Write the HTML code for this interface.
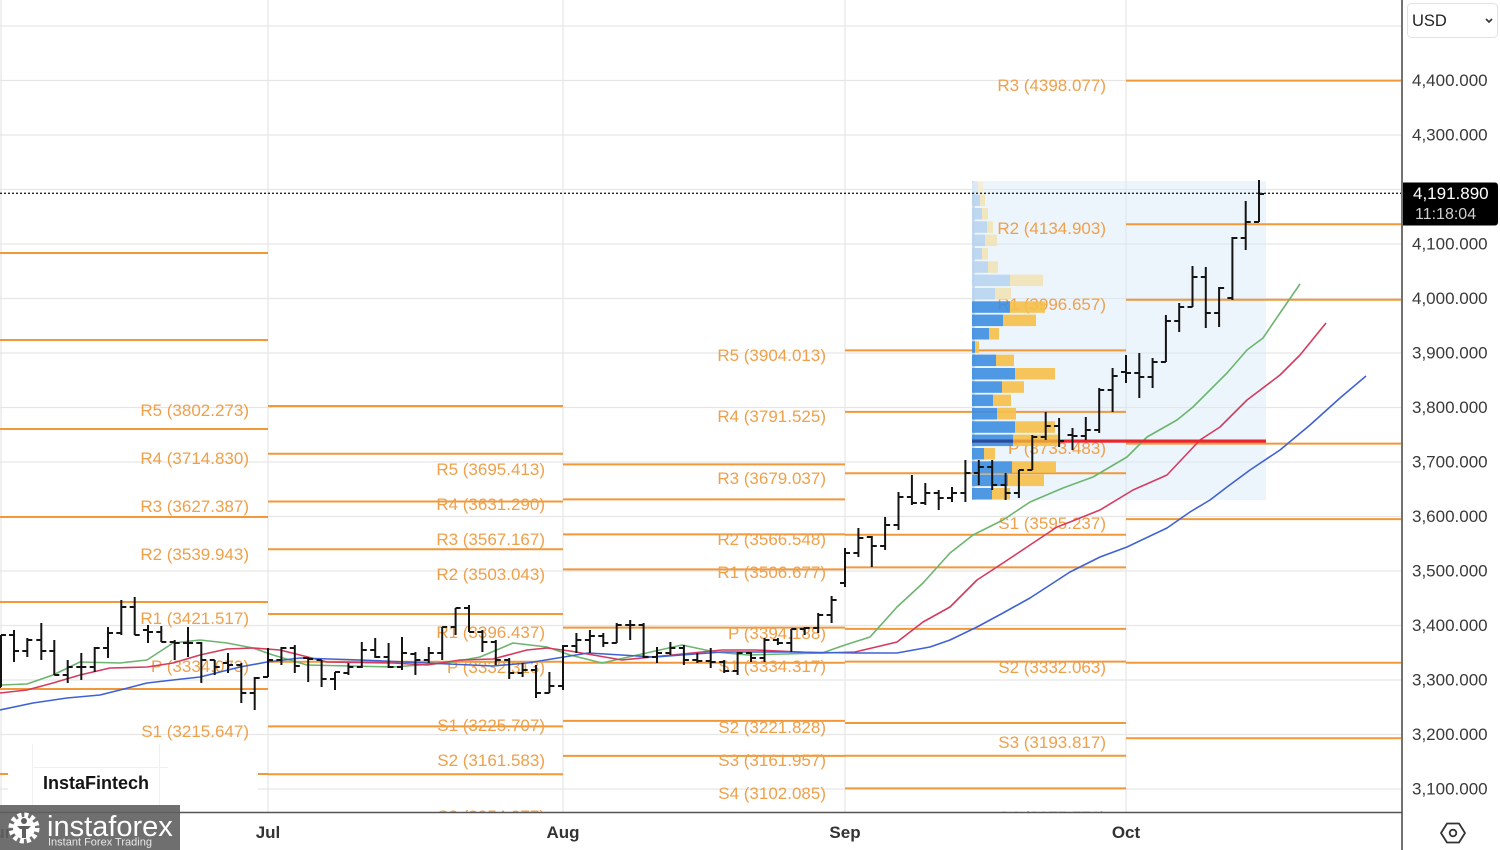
<!DOCTYPE html>
<html><head><meta charset="utf-8"><style>
html,body{margin:0;padding:0;background:#fff;}
body{width:1500px;height:850px;overflow:hidden;font-family:"Liberation Sans",Arial,sans-serif;}
svg{display:block;}
.ax{font-size:17px;fill:#3a3a3a;}
.lb{font-size:17px;fill:#EFA04A;text-anchor:end;}
.mo{font-size:17px;font-weight:bold;fill:#333;text-anchor:middle;}
</style></head><body>
<svg width="1500" height="850" viewBox="0 0 1500 850" xmlns="http://www.w3.org/2000/svg">
<defs><clipPath id="c"><rect x="0" y="0" width="1401" height="812"/></clipPath></defs>
<rect width="1500" height="850" fill="#fff"/>
<g clip-path="url(#c)">
<g stroke="#e6e6e6" stroke-width="1.2">
<line x1="0" x2="1401" y1="26" y2="26"/><line x1="0" x2="1401" y1="80.5" y2="80.5"/><line x1="0" x2="1401" y1="135" y2="135"/><line x1="0" x2="1401" y1="189.5" y2="189.5"/><line x1="0" x2="1401" y1="244" y2="244"/><line x1="0" x2="1401" y1="298.5" y2="298.5"/><line x1="0" x2="1401" y1="353" y2="353"/><line x1="0" x2="1401" y1="407.5" y2="407.5"/><line x1="0" x2="1401" y1="462" y2="462"/><line x1="0" x2="1401" y1="516.5" y2="516.5"/><line x1="0" x2="1401" y1="571" y2="571"/><line x1="0" x2="1401" y1="625.5" y2="625.5"/><line x1="0" x2="1401" y1="680" y2="680"/><line x1="0" x2="1401" y1="734.5" y2="734.5"/><line x1="0" x2="1401" y1="789" y2="789"/>
<line x1="1" x2="1" y1="0" y2="812"/><line x1="268" x2="268" y1="0" y2="812"/><line x1="563" x2="563" y1="0" y2="812"/><line x1="845" x2="845" y1="0" y2="812"/><line x1="1126" x2="1126" y1="0" y2="812"/>
</g>
<rect x="972" y="181" width="294" height="319" fill="#d6e8f8" fill-opacity="0.45"/>
<rect x="972" y="181" width="3" height="319" fill="#cfdbe6"/>
<g stroke="#F0983A" stroke-width="2">
<line x1="0" x2="268" y1="253" y2="253"/><line x1="0" x2="268" y1="340" y2="340"/><line x1="0" x2="268" y1="429" y2="429"/><line x1="0" x2="268" y1="517" y2="517"/><line x1="0" x2="268" y1="602" y2="602"/><line x1="0" x2="268" y1="689" y2="689"/><line x1="0" x2="268" y1="774" y2="774"/>
<line x1="268" x2="563" y1="406" y2="406"/><line x1="268" x2="563" y1="453.7" y2="453.7"/><line x1="268" x2="563" y1="501.5" y2="501.5"/><line x1="268" x2="563" y1="549.3" y2="549.3"/><line x1="268" x2="563" y1="614" y2="614"/><line x1="268" x2="563" y1="661.7" y2="661.7"/><line x1="268" x2="563" y1="726.4" y2="726.4"/><line x1="268" x2="563" y1="774.2" y2="774.2"/>
<line x1="563" x2="845" y1="464.4" y2="464.4"/><line x1="563" x2="845" y1="499.4" y2="499.4"/><line x1="563" x2="845" y1="534.4" y2="534.4"/><line x1="563" x2="845" y1="569.4" y2="569.4"/><line x1="563" x2="845" y1="627.6" y2="627.6"/><line x1="563" x2="845" y1="662.7" y2="662.7"/><line x1="563" x2="845" y1="720.9" y2="720.9"/><line x1="563" x2="845" y1="755.9" y2="755.9"/>
<line x1="845" x2="1126" y1="350.4" y2="350.4"/><line x1="845" x2="1126" y1="411.9" y2="411.9"/><line x1="845" x2="1126" y1="473.3" y2="473.3"/><line x1="845" x2="1126" y1="534.7" y2="534.7"/><line x1="845" x2="1126" y1="567.4" y2="567.4"/><line x1="845" x2="1126" y1="628.9" y2="628.9"/><line x1="845" x2="1126" y1="661.6" y2="661.6"/><line x1="845" x2="1126" y1="723" y2="723"/><line x1="845" x2="1126" y1="755.7" y2="755.7"/><line x1="845" x2="1126" y1="788.4" y2="788.4"/>
<line x1="1126" x2="1401" y1="80.6" y2="80.6"/><line x1="1126" x2="1401" y1="224.3" y2="224.3"/><line x1="1126" x2="1401" y1="299.8" y2="299.8"/><line x1="1126" x2="1401" y1="443.6" y2="443.6"/><line x1="1126" x2="1401" y1="519.1" y2="519.1"/><line x1="1126" x2="1401" y1="662.8" y2="662.8"/><line x1="1126" x2="1401" y1="738.3" y2="738.3"/>
</g>
<g class="lb">
<text x="249" y="416">R5 (3802.273)</text><text x="249" y="464">R4 (3714.830)</text><text x="249" y="512">R3 (3627.387)</text><text x="249" y="560">R2 (3539.943)</text><text x="249" y="624">R1 (3421.517)</text><text x="249" y="672">P (3334.073)</text><text x="249" y="737">S1 (3215.647)</text>
<text x="545" y="475">R5 (3695.413)</text><text x="545" y="510">R4 (3631.290)</text><text x="545" y="545">R3 (3567.167)</text><text x="545" y="580">R2 (3503.043)</text><text x="545" y="638">R1 (3396.437)</text><text x="545" y="673">P (3332.313)</text><text x="545" y="731">S1 (3225.707)</text><text x="545" y="766">S2 (3161.583)</text><text x="545" y="822">S3 (3054.977)</text>
<text x="826" y="361">R5 (3904.013)</text><text x="826" y="422">R4 (3791.525)</text><text x="826" y="484">R3 (3679.037)</text><text x="826" y="545">R2 (3566.548)</text><text x="826" y="578">R1 (3506.677)</text><text x="826" y="639">P (3394.188)</text><text x="826" y="672">S1 (3334.317)</text><text x="826" y="733">S2 (3221.828)</text><text x="826" y="766">S3 (3161.957)</text><text x="826" y="799">S4 (3102.085)</text>
<text x="1106" y="91">R3 (4398.077)</text><text x="1106" y="234">R2 (4134.903)</text><text x="1106" y="310">R1 (3996.657)</text><text x="1106" y="454">P (3733.483)</text><text x="1106" y="529">S1 (3595.237)</text><text x="1106" y="673">S2 (3332.063)</text><text x="1106" y="748">S3 (3193.817)</text><text x="1106" y="823">S4 (3055.571)</text>
</g>
<g opacity="0.9">
<g fill="#b9d5f1">
<rect x="972" y="181.5" width="6" height="11.5" fill="#dbe8f5"/><rect x="972" y="194.5" width="8" height="11.5"/><rect x="972" y="208" width="10" height="11.5"/><rect x="972" y="221.3" width="15" height="11.5"/><rect x="972" y="234.6" width="13" height="11.5"/><rect x="972" y="248" width="10" height="11.5"/><rect x="972" y="261.3" width="16" height="11.5"/><rect x="972" y="274.6" width="38" height="11.5"/><rect x="972" y="288" width="23" height="11.5"/>
</g>
<g fill="#f2e4b8">
<rect x="978" y="181.5" width="5" height="11.5" fill="#f5edd3"/><rect x="980" y="194.5" width="5" height="11.5"/><rect x="982" y="208" width="6" height="11.5"/><rect x="987" y="221.3" width="6" height="11.5"/><rect x="985" y="234.6" width="12" height="11.5"/><rect x="982" y="248" width="6" height="11.5"/><rect x="988" y="261.3" width="10" height="11.5"/><rect x="1010" y="274.6" width="33" height="11.5"/><rect x="995" y="288" width="16" height="11.5"/>
</g>
<g fill="#3d8fe2">
<rect x="972" y="301.3" width="38" height="11.5"/><rect x="972" y="314.6" width="31" height="11.5"/><rect x="972" y="328" width="17" height="11.5"/><rect x="972" y="341.3" width="3" height="11.5"/><rect x="972" y="354.6" width="24" height="11.5"/><rect x="972" y="368" width="43" height="11.5"/><rect x="972" y="381.3" width="30" height="11.5"/><rect x="972" y="394.6" width="21" height="11.5"/><rect x="972" y="408" width="25" height="11.5"/><rect x="972" y="421.3" width="43" height="11.5"/><rect x="972" y="434.6" width="41" height="11.5"/><rect x="972" y="448" width="12" height="11.5"/><rect x="972" y="461.3" width="40" height="11.5"/><rect x="972" y="474.6" width="36" height="11.5"/><rect x="972" y="488" width="20" height="11.5"/>
</g>
<g fill="#f6c04a">
<rect x="1010" y="301.3" width="35" height="11.5"/><rect x="1003" y="314.6" width="33" height="11.5"/><rect x="989" y="328" width="10" height="11.5"/><rect x="975" y="341.3" width="4" height="11.5"/><rect x="996" y="354.6" width="18" height="11.5"/><rect x="1015" y="368" width="40" height="11.5"/><rect x="1002" y="381.3" width="22" height="11.5"/><rect x="993" y="394.6" width="18" height="11.5"/><rect x="997" y="408" width="19" height="11.5"/><rect x="1015" y="421.3" width="40" height="11.5"/><rect x="1013" y="434.6" width="45" height="11.5"/><rect x="984" y="448" width="11" height="11.5"/><rect x="1012" y="461.3" width="44" height="11.5"/><rect x="1008" y="474.6" width="36" height="11.5"/><rect x="992" y="488" width="18" height="11.5"/>
</g>
</g>
<g fill="none" stroke-width="1.6" stroke-linejoin="round">
<polyline stroke="#6db56f" points="0,685 27,684 53,675 80,662 120,663 147,660 173,643 200,640 227,643 253,648 273,655 307,665 393,667 447,663 480,657 513,643 547,647 570,655 602,663 682,645 715,652 748,655 822,653 845,645 870,637 897,607 923,583 950,553 973,535 1003,520 1030,502 1063,488 1093,477 1127,457 1147,437 1177,420 1193,407 1227,373 1247,350 1263,338 1280,313 1300,284"/>
<polyline stroke="#d63a5e" points="0,693 27,690 53,683 80,675 110,668 147,667 173,663 200,655 227,649 253,648 280,650 300,655 327,662 393,663 427,665 460,660 493,659 527,650 547,648 570,651 622,660 672,655 722,650 755,650 822,653 855,652 897,642 923,622 950,607 977,580 1003,563 1030,545 1057,527 1070,522 1100,510 1133,490 1167,475 1200,440 1220,427 1247,400 1280,375 1300,355 1326,323"/>
<polyline stroke="#3f62d3" points="0,710 33,703 67,698 100,695 120,690 147,683 173,680 200,677 240,667 267,662 300,658 360,660 427,663 493,666 527,663 570,656 588,653 655,657 722,652 788,652 855,653 897,653 930,647 950,640 977,627 1003,613 1030,598 1070,572 1100,557 1127,547 1167,528 1190,512 1210,500 1227,487 1250,470 1280,450 1310,425 1340,398 1366,376"/>
</g>
<rect x="972" y="439.5" width="41" height="3.2" fill="#2b4a9a"/>
<rect x="1013" y="439.5" width="45" height="3.2" fill="#e79a3a"/>
<rect x="1058" y="439.5" width="208" height="3.2" fill="#e8262b"/>
<path fill="none" stroke="#141414" stroke-width="2" d="
M1 635V687M-4 687H1M1 635H6
M14 630V662M9 635H14M14 651H19
M27.3 638V657M22.3 651H27.3M27.3 640H32.3
M41.3 623V660M36.3 640H41.3M41.3 651H46.3
M54.3 640V675M49.3 651H54.3M54.3 675H59.3
M67.7 660V683M62.7 675H67.7M67.7 667H72.7
M81.3 653V680M76.3 667H81.3M81.3 667H86.3
M94.7 647V672M89.7 667H94.7M94.7 648H99.7
M108 627V658M103 648H108M108 633H113
M121.3 600V635M116.3 633H121.3M121.3 607H126.3
M134.7 597V635M129.7 607H134.7M134.7 635H139.7
M148 625V643M143 630H148M148 632H153
M161.3 626V642M156.3 632H161.3M161.3 642H166.3
M174.7 640V660M169.7 642H174.7M174.7 643H179.7
M188 627V657M183 643H188M188 643H193
M201.3 642V683M196.3 643H201.3M201.3 660H206.3
M214.7 660V675M209.7 660H214.7M214.7 667H219.7
M228 653V673M223 663H228M228 665H233
M241.3 663V703M236.3 665H241.3M241.3 693H246.3
M254.7 677V710M249.7 693H254.7M254.7 678H259.7
M268 648V677M263 677H268M268 660H273
M281.4 647V665M276.4 660H281.4M281.4 648H286.4
M294.8 645V673M289.8 648H294.8M294.8 666H299.8
M308.2 657V682M303.2 658H308.2M308.2 659H313.2
M321.6 660V687M316.6 660H321.6M321.6 679H326.6
M335 672V690M330 679H335M335 672H340
M348.4 663V675M343.4 673H348.4M348.4 667H353.4
M361.8 642V668M356.8 667H361.8M361.8 650H366.8
M375.2 638V658M370.2 650H375.2M375.2 657H380.2
M388.6 643V668M383.6 657H388.6M388.6 667H393.6
M402 637V670M397 667H402M402 653H407
M415.4 652V675M410.4 654H415.4M415.4 660H420.4
M428.8 647V663M423.8 660H428.8M428.8 653H433.8
M442.2 627V660M437.2 653H442.2M442.2 627H447.2
M455.6 608V635M450.6 627H455.6M455.6 608H460.6
M469 605V632M464 608H469M469 632H474
M482.4 630V652M477.4 632H482.4M482.4 642H487.4
M495.8 640V665M490.8 642H495.8M495.8 660H500.8
M509.2 658V679M504.2 660H509.2M509.2 673H514.2
M522.6 663V677M517.6 673H522.6M522.6 670H527.6
M536 665V698M531 670H536M536 693H541
M549.4 672V693M544.4 693H549.4M549.4 686H554.4
M563 645V690M558 686H563M563 646H568
M576.4 633V653M571.4 646H576.4M576.4 640H581.4
M589.9 630V653M584.9 640H589.9M589.9 636H594.9
M603.3 633V647M598.3 636H603.3M603.3 643H608.3
M616.7 623V643M611.7 643H616.7M616.7 625H621.7
M630.2 620V640M625.2 625H630.2M630.2 625H635.2
M643.6 623V658M638.6 625H643.6M643.6 657H648.6
M657 647V663M652 657H657M657 653H662
M670.4 642V655M665.4 653H670.4M670.4 648H675.4
M683.9 645V665M678.9 648H683.9M683.9 660H688.9
M697.3 653V663M692.3 660H697.3M697.3 661H702.3
M710.7 648V668M705.7 661H710.7M710.7 662H715.7
M724.2 660V673M719.2 662H724.2M724.2 671H729.2
M737.6 652V675M732.6 671H737.6M737.6 653H742.6
M751 652V662M746 653H751M751 658H756
M764.5 638V662M759.5 658H764.5M764.5 640H769.5
M777.9 638V645M772.9 640H777.9M777.9 643H782.9
M791.3 629V652M786.3 643H791.3M791.3 629H796.3
M804.7 627V635M799.7 629H804.7M804.7 628H809.7
M818.2 613V633M813.2 628H818.2M818.2 615H823.2
M831.6 596V623M826.6 615H831.6M831.6 600H836.6
M845 548V587M840 583H845M845 553H850
M858.4 528V557M853.4 553H858.4M858.4 538H863.4
M871.8 536V567M866.8 537H871.8M871.8 546H876.8
M885.1 517V550M880.1 546H885.1M885.1 525H890.1
M898.5 492V530M893.5 525H898.5M898.5 497H903.5
M911.9 475V505M906.9 497H911.9M911.9 503H916.9
M925.3 483V505M920.3 503H925.3M925.3 493H930.3
M938.7 490V510M933.7 493H938.7M938.7 498H943.7
M952 487V502M947 498H952M952 493H957
M965.4 460V502M960.4 493H965.4M965.4 473H970.4
M978.8 460V485M973.8 473H978.8M978.8 467H983.8
M992.2 460V490M987.2 467H992.2M992.2 485H997.2
M1005.6 473V500M1000.6 485H1005.6M1005.6 493H1010.6
M1018.9 470V498M1013.9 493H1018.9M1018.9 470H1023.9
M1032.3 435V470M1027.3 470H1032.3M1032.3 437H1037.3
M1045.7 412V440M1040.7 437H1045.7M1045.7 426H1050.7
M1059.1 418V447M1054.1 426H1059.1M1059.1 441H1064.1
M1072.5 428V450M1067.5 435H1072.5M1072.5 436H1077.5
M1085.8 417V440M1080.8 436H1085.8M1085.8 430H1090.8
M1099.2 388V433M1094.2 430H1099.2M1099.2 390H1104.2
M1112.6 368V412M1107.6 390H1112.6M1112.6 376H1117.6
M1126 355V383M1121 372H1126M1126 373H1131
M1139.3 353V398M1134.3 373H1139.3M1139.3 377H1144.3
M1152.6 358V388M1147.6 377H1152.6M1152.6 362H1157.6
M1165.9 315V362M1160.9 362H1165.9M1165.9 321H1170.9
M1179.2 303V332M1174.2 321H1179.2M1179.2 307H1184.2
M1192.5 266V307M1187.5 307H1192.5M1192.5 277H1197.5
M1205.8 267V328M1200.8 277H1205.8M1205.8 313H1210.8
M1219.1 287V327M1214.1 313H1219.1M1219.1 288H1224.1
M1232.4 237V300M1227.4 298H1232.4M1232.4 238H1237.4
M1245.7 201V250M1240.7 238H1245.7M1245.7 222H1250.7
M1259 180V222M1254 222H1259M1259 194H1264"/>
<line x1="0" x2="1401" y1="193.3" y2="193.3" stroke="#222" stroke-width="1.4" stroke-dasharray="2,2"/>
<rect x="8" y="744" width="250" height="68" fill="#fff"/>
<g stroke="#f0f0f0" stroke-width="1"><line x1="32.5" x2="32.5" y1="744" y2="810"/><line x1="159.5" x2="159.5" y1="744" y2="810"/><line x1="32" x2="168" y1="767.5" y2="767.5"/></g>
<text x="43" y="789" font-size="18" font-weight="bold" fill="#151515">InstaFintech</text>
</g>
<line x1="0" x2="1402" y1="812.5" y2="812.5" stroke="#555" stroke-width="1.5"/>
<line x1="1402" x2="1402" y1="0" y2="850" stroke="#444" stroke-width="1.5"/>
<g class="mo"><text x="0" y="838">Jun</text><text x="268" y="838">Jul</text><text x="563" y="838">Aug</text><text x="845" y="838">Sep</text><text x="1126" y="838">Oct</text></g>
<g class="ax">
<text x="1412" y="86">4,400.000</text><text x="1412" y="140.5">4,300.000</text><text x="1412" y="249.5">4,100.000</text><text x="1412" y="304">4,000.000</text><text x="1412" y="358.5">3,900.000</text><text x="1412" y="413">3,800.000</text><text x="1412" y="467.5">3,700.000</text><text x="1412" y="522">3,600.000</text><text x="1412" y="576.5">3,500.000</text><text x="1412" y="631">3,400.000</text><text x="1412" y="685.5">3,300.000</text><text x="1412" y="740">3,200.000</text><text x="1412" y="794.5">3,100.000</text>
</g>
<path d="M1403 182.5H1495a3 3 0 0 1 3 3V222.5a3 3 0 0 1 -3 3H1403Z" fill="#000"/>
<text x="1413" y="199" font-size="17" fill="#fff">4,191.890</text>
<text x="1415" y="219" font-size="16" fill="#cfcfcf">11:18:04</text>
<rect x="1407.5" y="3.5" width="90" height="34" rx="4" fill="#fff" stroke="#e2e2e2"/>
<text x="1412" y="26" font-size="16.5" fill="#222">USD</text>
<path d="M1486 19l3 3 3-3" fill="none" stroke="#333" stroke-width="1.6"/>
<path d="M1447 823.5h12l6 9.5-6 9.5h-12l-6-9.5z" fill="none" stroke="#333" stroke-width="1.8" stroke-linejoin="round"/>
<circle cx="1453" cy="833" r="3.3" fill="none" stroke="#333" stroke-width="1.8"/>
<rect x="0" y="805" width="180" height="45" fill="#5f5f5f" fill-opacity="0.9"/>
<circle cx="24" cy="828" r="13" fill="none" stroke="#fff" stroke-width="5" stroke-dasharray="4,2.8"/>
<circle cx="24" cy="828" r="11" fill="#fff"/>
<circle cx="24" cy="821" r="3" fill="#5f5f5f"/>
<path d="M17 826h14l-3 3h-2v9h-4v-9h-2z" fill="#5f5f5f"/>
<text x="47" y="836" font-size="29" fill="#fff">instaforex</text>
<text x="48" y="845.5" font-size="11" fill="#e8e8e8">Instant Forex Trading</text>
</svg>
</body></html>
